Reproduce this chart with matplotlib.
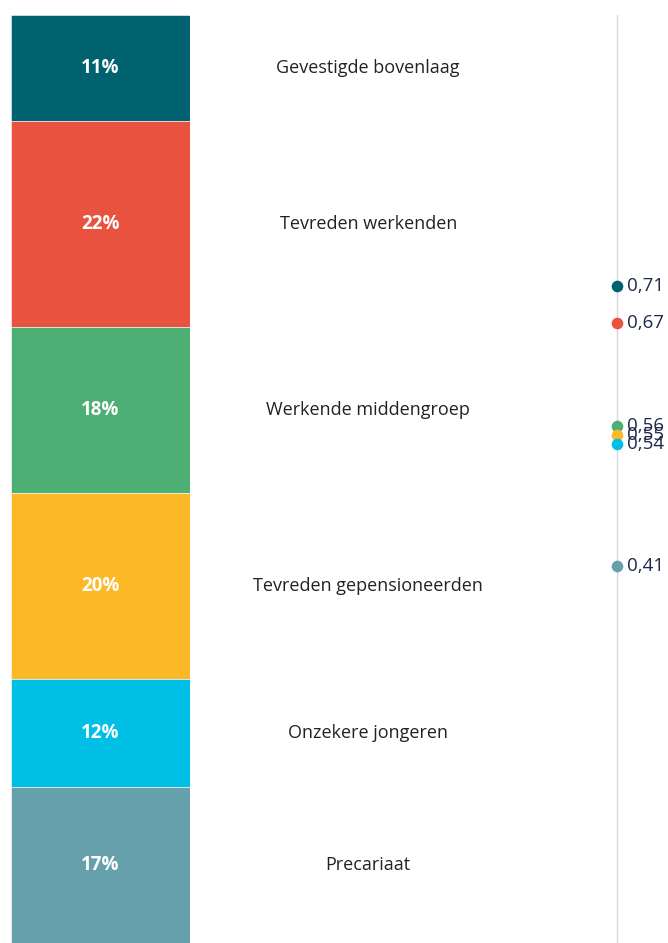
import matplotlib.pyplot as plt

# data
groups = ["Gevestigde bovenlaag", "Tevreden werkenden", "Werkende middengroep",
          "Tevreden gepensioneerden", "Onzekere jongeren", "Precariaat"]
shares = [11.4, 22.2, 17.9, 20.0, 11.7, 16.8]
scores = [0.71, 0.67, 0.56, 0.55, 0.54, 0.41]
colors = ["#00626F", "#E8523F", "#4DAF73", "#FDB827", "#00BFE4", "#66A0AB"]

plt.rcParams["font.family"] = ["Open Sans", "DejaVu Sans"]

W, H = 668, 943
fig = plt.figure(figsize=(W / 100, H / 100), dpi=100)
top = 1 - 15 / H

# stacked bar (0% at top)
ax = fig.add_axes([11 / W, 0, 179 / W, top])
bottom = 0
for s, c in zip(shares, colors):
    ax.bar(0, s, bottom=bottom, width=1, color=c, edgecolor="white", linewidth=0.4)
    ax.text(0, bottom + s / 2, f"{s:.0f}%", color="white", ha="center", va="center",
            fontsize=13.5, fontweight="bold")
    bottom += s
ax.set_xlim(-0.5, 0.5)
ax.set_ylim(sum(shares), 0)
ax.axis("off")

# group labels in the middle
axl = fig.add_axes([190 / W, 0, 360 / W, top])
axl.set_xlim(0, 1)
axl.set_ylim(sum(shares), 0)
bottom = 0
for g, s in zip(groups, shares):
    axl.text(0.495, bottom + s / 2, g, ha="center", va="center", fontsize=13, color="#222222")
    bottom += s
axl.axis("off")

# dot axis on the right
axd = fig.add_axes([600 / W, 0, 34 / W, top])
axd.set_xlim(-1, 1)
axd.set_ylim(0.006, 1.0)
axd.axvline(0, color="#d9d9d9", linewidth=1, zorder=0)
for v, c in zip(scores, colors):
    axd.scatter(0, v, s=70, color=c, zorder=3, linewidths=0)
    axd.text(0.6, v, f"{v:.2f}".replace(".", ","), ha="left", va="center",
             fontsize=13.5, color="#1e2a4a", clip_on=False)
axd.axis("off")

fig.savefig("out.png", dpi=100)
